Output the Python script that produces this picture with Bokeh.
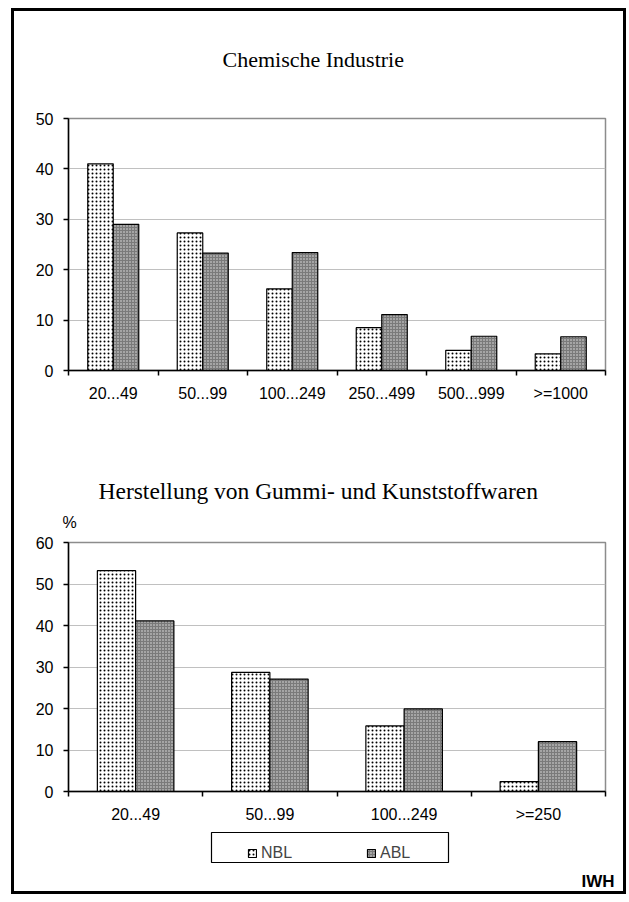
from bokeh.plotting import figure
from bokeh.models import (Range1d, FixedTicker, SingleIntervalTicker, Legend,
                          LegendItem, ColumnDataSource, Title, Label, BoxAnnotation)
from bokeh.layouts import column
from bokeh.transform import dodge
from bokeh.embed import file_html
from bokeh.resources import INLINE

# ---- data ----
title_top = "Chemische Industrie"
cats_top = ["20...49", "50...99", "100...249", "250...499", "500...999", ">=1000"]
nbl_top = [41.0, 27.3, 16.2, 8.5, 4.0, 3.3]
abl_top = [29.0, 23.3, 23.4, 11.1, 6.8, 6.7]

title_bot = "Herstellung von Gummi- und Kunststoffwaren"
cats_bot = ["20...49", "50...99", "100...249", ">=250"]
nbl_bot = [53.2, 28.7, 15.8, 2.4]
abl_bot = [41.1, 27.1, 19.9, 12.0]

series_names = ["NBL", "ABL"]
unit_label = "%"
source_label = "IWH"

SANS = "Liberation Sans"
SERIF = "Liberation Serif"
W = 609
BW = 0.285
FS = "16px"

NBL_STYLE = dict(fill_color="white", line_color="black", line_width=1.2,
                 hatch_pattern="dot", hatch_color="black", hatch_scale=4, hatch_weight=0.5)
ABL_STYLE = dict(fill_color="#7a7a7a", line_color="black", line_width=1.2,
                 hatch_pattern="dot", hatch_color="#e6e6e6", hatch_scale=3, hatch_weight=1)


def make_panel(cats, nbl, abl, ymax, height, btop, bbot):
    n = len(cats)
    pos = [i + 0.5 for i in range(n)]
    src = ColumnDataSource(dict(pos=pos, cat=cats, nbl=nbl, abl=abl))
    p = figure(width=W, height=height, output_backend="svg", toolbar_location=None,
               x_range=Range1d(0, n), y_range=Range1d(0, ymax), title=None,
               min_border_left=54, min_border_right=18, min_border_top=btop,
               min_border_bottom=bbot)
    p.background_fill_color = "white"
    p.border_fill_color = "white"
    p.outline_line_color = "#8c8c8c"
    p.outline_line_width = 1.5

    p.vbar(x=dodge("pos", -BW / 2, range=p.x_range), top="nbl", width=BW, source=src, **NBL_STYLE)
    p.vbar(x=dodge("pos", BW / 2, range=p.x_range), top="abl", width=BW, source=src, **ABL_STYLE)

    xa = p.xaxis[0]
    xa.ticker = FixedTicker(ticks=pos, minor_ticks=list(range(n + 1)))
    xa.major_label_overrides = {pp: c for pp, c in zip(pos, cats)}
    xa.major_tick_line_color = None
    xa.major_tick_in = 0
    xa.major_tick_out = 0
    xa.minor_tick_in = 0
    xa.minor_tick_out = 5
    xa.minor_tick_line_color = "black"
    xa.minor_tick_line_width = 1.5
    xa.axis_line_color = "black"
    xa.axis_line_width = 1.5
    xa.major_label_text_font = SANS
    xa.major_label_text_font_size = FS
    xa.major_label_text_color = "black"
    xa.major_label_standoff = 9

    ya = p.yaxis[0]
    ya.ticker = SingleIntervalTicker(interval=10)
    ya.minor_tick_line_color = None
    ya.major_tick_in = 0
    ya.major_tick_out = 5
    ya.major_tick_line_color = "black"
    ya.major_tick_line_width = 1.5
    ya.axis_line_color = "black"
    ya.axis_line_width = 1.5
    ya.major_label_text_font = SANS
    ya.major_label_text_font_size = FS
    ya.major_label_text_color = "black"
    ya.major_label_standoff = 10

    p.xgrid.grid_line_color = None
    p.ygrid.grid_line_color = "#c0c0c0"
    p.ygrid.grid_line_width = 1.2
    return p


def main_title(text, offset, standoff, valign, size):
    return Title(text=text, align="left", offset=offset, standoff=standoff,
                 vertical_align=valign, text_font=SERIF, text_font_size=size,
                 text_font_style="normal", text_color="black")


# ---- top chart ----
p1 = make_panel(cats_top, nbl_top, abl_top, 50, 429, 107, 70)
p1.add_layout(Title(text=" ", text_font_size="1px", standoff=42), "above")   # spacer
p1.add_layout(main_title(title_top, 154, 0, "top", "22px"), "above")

# ---- bottom chart ----
p2 = make_panel(cats_bot, nbl_bot, abl_bot, 60, 385, 102, 34)
p2.add_layout(Title(text=unit_label, align="left", offset=-6, standoff=20, vertical_align="top",
                    text_font=SANS, text_font_size=FS, text_font_style="normal",
                    text_color="black"), "above")
p2.add_layout(main_title(title_bot, 30, 0, "bottom", "23.5px"), "above")

# ---- legend strip (pixel-unit canvas) ----
H3 = 66
p3 = figure(width=W, height=H3, output_backend="svg", toolbar_location=None,
            x_range=Range1d(0, W), y_range=Range1d(0, H3), title=None,
            min_border=0, x_axis_location=None, y_axis_location=None)
if "frame_align" in p3.properties():
    p3.frame_align = False
p3.outline_line_color = None
p3.grid.visible = False
p3.background_fill_color = "white"
p3.border_fill_color = "white"
hidden = ColumnDataSource(dict(x=[-50], top=[0]))
g1 = p3.vbar(x="x", top="top", width=1, source=hidden, **NBL_STYLE)
g2 = p3.vbar(x="x", top="top", width=1, source=hidden, **ABL_STYLE)
p3.add_layout(BoxAnnotation(left=197, right=434, bottom=29, top=59,
                            fill_color=None, fill_alpha=0, line_color="black",
                            line_alpha=1.0, line_width=1.2))
lg = Legend(items=[LegendItem(label=series_names[0], renderers=[g1]),
                   LegendItem(label=series_names[1], renderers=[g2])],
            orientation="horizontal", location=(233, 29), margin=0,
            glyph_width=10, glyph_height=10, label_standoff=4, label_width=40,
            spacing=65, padding=5,
            label_text_font=SANS, label_text_font_size=FS,
            border_line_color=None, background_fill_alpha=0)
p3.add_layout(lg, "center")
p3.add_layout(Label(x=600, y=10, text=source_label, text_font=SANS, text_font_size="17px",
                    text_font_style="bold", text_align="right", text_baseline="alphabetic",
                    text_color="black"))

layout = column(p1, p2, p3, spacing=0,
                styles={"border": "3px solid black", "margin-left": "11px", "margin-top": "8px"})

open("out.html", "w").write(file_html(layout, INLINE))
